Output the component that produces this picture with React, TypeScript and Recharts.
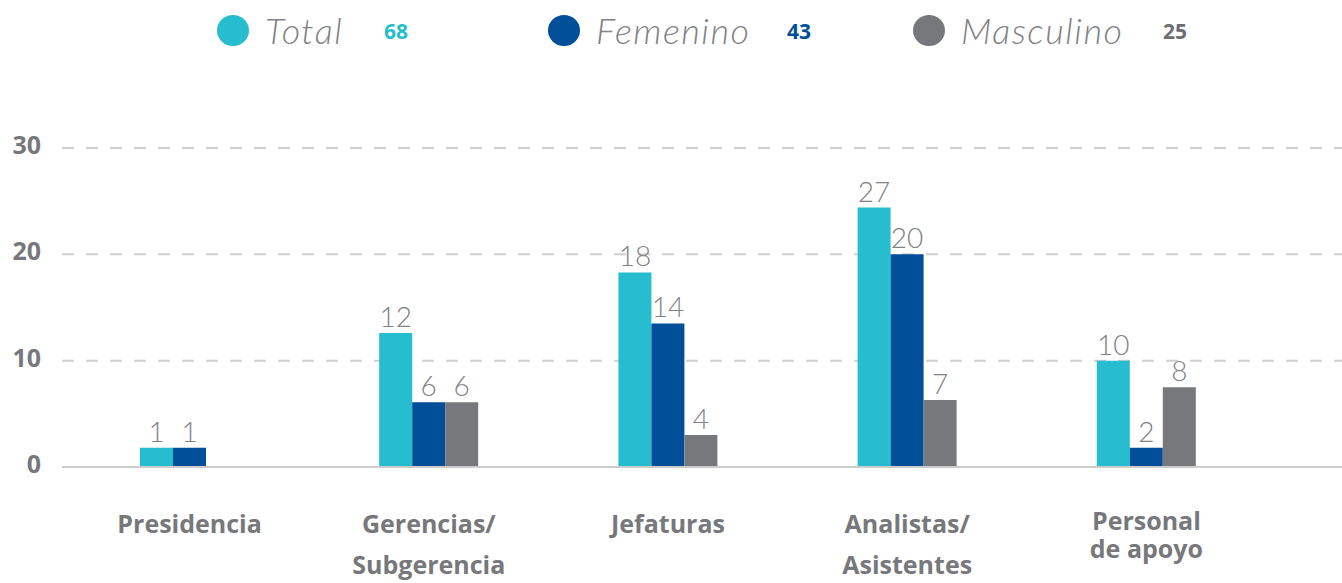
import { BarChart, Bar, XAxis, YAxis, CartesianGrid, LabelList } from 'recharts'

const categories = [
  'Presidencia',
  'Gerencias/\nSubgerencia',
  'Jefaturas',
  'Analistas/\nAsistentes',
  'Personal\nde apoyo',
]

// printed values
const totalValues = [1, 12, 18, 27, 10]
const femeninoValues = [1, 6, 14, 20, 2]
const masculinoValues = [null, 6, 4, 7, 8]

// bar heights as drawn in the picture
const totalBars = [1.8, 12.6, 18.3, 24.4, 10]
const femeninoBars = [1.8, 6.1, 13.5, 20, 1.8]
const masculinoBars = [null, 6.1, 3, 6.3, 7.5]

const seriesNames = ['Total', 'Femenino', 'Masculino']
const seriesTotals = [68, 43, 25]
const yTicks = [0, 10, 20, 30]

const COLORS = ['#26BDCE', '#004F98', '#77787B']
const TEXT = '#808285'
const BOLD = '"Open Sans", sans-serif'
const THIN = 'Lato, "Open Sans", sans-serif'

const data = categories.map((name, i) => ({
  name,
  total: totalBars[i],
  femenino: femeninoBars[i],
  masculino: masculinoBars[i],
  totalLabel: totalValues[i],
  femeninoLabel: femeninoValues[i],
  masculinoLabel: masculinoValues[i],
}))

// legend placement (px from left edge)
const legendLeft = [217, 548, 913]
const countLeft = [167, 239, 250]

function CategoryTick({ x, y, payload }: any) {
  const lines = String(payload.value).split('\n')
  const tight = lines[0] === 'Personal'
  return (
    <text
      x={x}
      y={y + (tight ? 55 : 58)}
      textAnchor="middle"
      fill="#77787B"
      fontFamily={BOLD}
      fontWeight="bold"
      fontSize={25}
    >
      {lines.map((l, i) => (
        <tspan key={i} x={x} dy={i === 0 ? 0 : tight ? 28 : 41}>
          {l}
        </tspan>
      ))}
    </text>
  )
}

function ValueTick({ x, y, payload }: any) {
  return (
    <text x={x} y={y + 6} textAnchor="end" fill="#77787B" fontFamily={BOLD} fontWeight="bold" fontSize={25}>
      {payload.value}
    </text>
  )
}

function Legend() {
  return (
    <>
      {seriesNames.map((name, i) => (
        <div key={name} style={{ position: 'absolute', left: legendLeft[i], top: 12, height: 38, width: 300 }}>
          <span
            style={{
              position: 'absolute',
              left: 0,
              top: 3,
              width: 32,
              height: 31,
              borderRadius: '50%',
              background: COLORS[i],
            }}
          />
          <span
            style={{
              position: 'absolute',
              left: 48,
              top: -6,
              lineHeight: '48px',
              fontFamily: THIN,
              fontWeight: 300,
              fontStyle: 'italic',
              fontSize: 36,
              letterSpacing: 1.5,
              color: TEXT,
              whiteSpace: 'nowrap',
            }}
          >
            {name}
          </span>
          <span
            style={{
              position: 'absolute',
              left: countLeft[i],
              top: 4,
              lineHeight: '30px',
              fontFamily: BOLD,
              fontWeight: 'bold',
              fontSize: 21,
              color: i === 2 ? '#6D6E71' : COLORS[i],
            }}
          >
            {seriesTotals[i]}
          </span>
        </div>
      ))}
    </>
  )
}

const labelStyle = { fill: TEXT, fontFamily: THIN, fontWeight: 300, fontSize: 28 }

export default function App() {
  return (
    <div style={{ position: 'absolute', left: 0, top: 0, width: 1342, height: 583, background: '#fff' }}>
      <Legend />
      <BarChart
        width={1342}
        height={583}
        data={data}
        margin={{ top: 148, right: 0, bottom: 0, left: 0 }}
        barGap={0}
        barSize={33}
      >
        <CartesianGrid vertical={false} stroke="#CFCFCF" strokeWidth={2} strokeDasharray="12 12" />
        <XAxis
          dataKey="name"
          height={116}
          interval={0}
          tickLine={false}
          axisLine={{ stroke: '#CCCCCC', strokeWidth: 2 }}
          padding={{ left: 8, right: 76 }}
          tick={<CategoryTick />}
        />
        <YAxis
          width={62}
          domain={[0, 30]}
          ticks={yTicks}
          tickLine={false}
          axisLine={false}
          tickMargin={15}
          tick={<ValueTick />}
        />
        <Bar dataKey="total" fill={COLORS[0]} isAnimationActive={false}>
          <LabelList dataKey="totalLabel" position="top" offset={6} style={labelStyle} />
        </Bar>
        <Bar dataKey="femenino" fill={COLORS[1]} isAnimationActive={false}>
          <LabelList dataKey="femeninoLabel" position="top" offset={6} style={labelStyle} />
        </Bar>
        <Bar dataKey="masculino" fill={COLORS[2]} isAnimationActive={false}>
          <LabelList dataKey="masculinoLabel" position="top" offset={6} style={labelStyle} />
        </Bar>
      </BarChart>
    </div>
  )
}
